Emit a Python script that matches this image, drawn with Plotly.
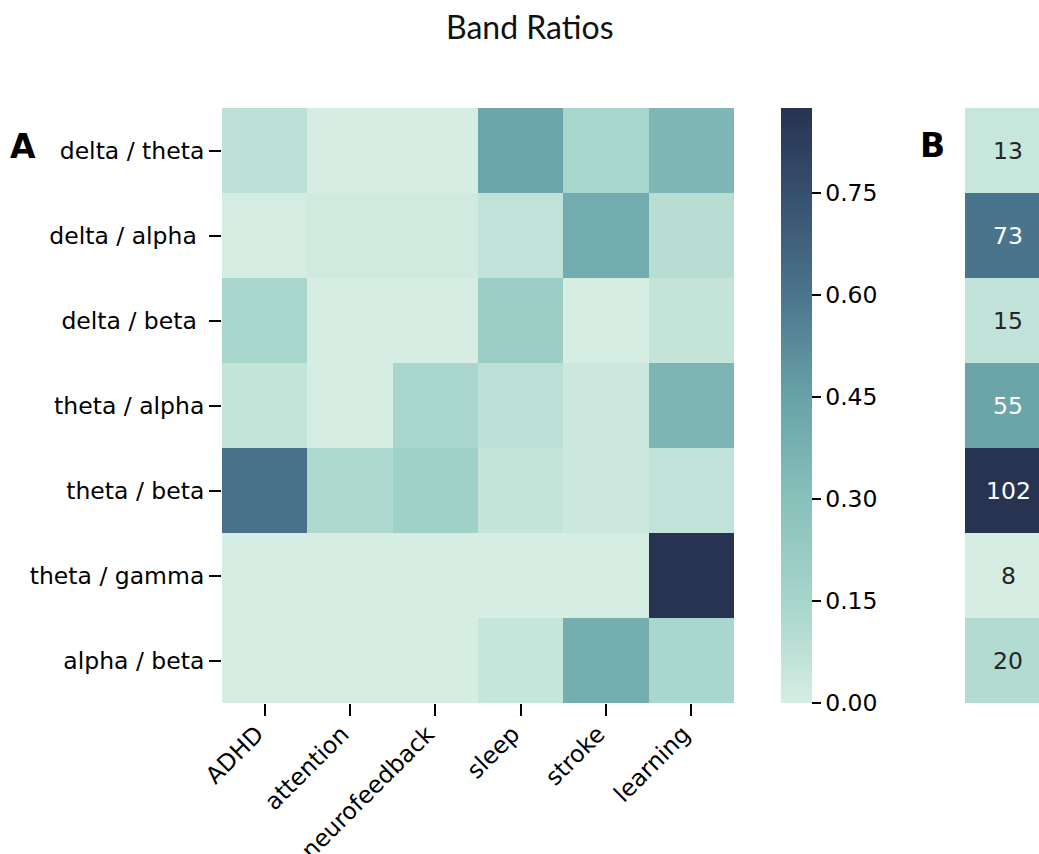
import plotly.graph_objects as go

W, H = 1039, 854

rows = ["delta / theta", "delta / alpha\u00a0", "delta / beta\u00a0", "theta / alpha",
        "theta / beta", "theta / gamma", "alpha / beta"]
cols = ["ADHD", "attention", "neurofeedback", "sleep", "stroke", "learning"]

delta_theta = [0.078, 0.0, 0.0, 0.43, 0.145, 0.345]
delta_alpha = [0.005, 0.02, 0.02, 0.07, 0.40, 0.094]
delta_beta = [0.145, 0.0, 0.0, 0.205, 0.0, 0.056]
theta_alpha = [0.056, 0.0, 0.145, 0.08, 0.03, 0.355]
theta_beta = [0.62, 0.125, 0.18, 0.055, 0.032, 0.07]
theta_gamma = [0.0, 0.0, 0.0, 0.0, 0.0, 0.875]
alpha_beta = [0.0, 0.0, 0.0, 0.05, 0.39, 0.14]
values = [delta_theta, delta_alpha, delta_beta, theta_alpha, theta_beta, theta_gamma, alpha_beta]

counts = [13, 73, 15, 55, 102, 8, 20]

cbar_ticks = [0.0, 0.15, 0.30, 0.45, 0.60, 0.75]
zmax = 0.875

stops = [(0.0, "#d6ede3"), (0.15, "#a6d5cb"), (0.30, "#88c0ba"), (0.45, "#68a2a8"),
         (0.60, "#4b758c"), (0.75, "#374f6f"), (0.875, "#273350")]
colorscale = [[v / zmax, c] for v, c in stops]

FONT = "DejaVu Sans"
fs = 23.5

def px_x(p):
    return p / W

def px_y(p):
    return 1 - p / H

top, bot = 108, 703
fig = go.Figure()
fig.add_trace(go.Heatmap(
    z=values, x=cols, y=rows, colorscale=colorscale, zmin=0, zmax=zmax,
    xaxis="x", yaxis="y",
    colorbar=dict(
        x=px_x(781), xanchor="left", xpad=0, ypad=0,
        y=px_y((top + bot) / 2), yanchor="middle",
        len=(bot - top) / H, lenmode="fraction",
        thickness=31, thicknessmode="pixels",
        outlinewidth=0,
        tickvals=cbar_ticks, ticktext=[f"{t:.2f}" for t in cbar_ticks],
        ticks="outside", ticklen=9, tickwidth=2, tickcolor="black",
        tickfont=dict(family=FONT, size=fs, color="black"),
    ),
    hoverongaps=False,
))

text_colors = ["#262626" if c < 40 else "white" for c in counts]
fig.add_trace(go.Heatmap(
    z=[[c] for c in counts], x=[0], y=rows, colorscale=colorscale,
    zmin=min(counts), zmax=max(counts), showscale=False,
    xaxis="x2", yaxis="y2",
))
for r, c, tc in zip(rows, counts, text_colors):
    fig.add_annotation(x=0, y=r, xref="x2", yref="y2", text=str(c), showarrow=False,
                       font=dict(family=FONT, size=fs, color=tc))

colB_left, colB_w = 965, 86
xr_end = -0.5 + (W - colB_left) / colB_w

fig.update_layout(
    width=W, height=H,
    margin=dict(l=0, r=0, t=0, b=0, autoexpand=False),
    paper_bgcolor="white", plot_bgcolor="white",
    xaxis=dict(domain=[px_x(222), px_x(734)], showgrid=False, zeroline=False, showline=False,
               ticks="outside", ticklen=12, tickwidth=2, tickcolor="black",
               tickangle=-45, tickfont=dict(family=FONT, size=fs, color="black"),
               ticklabelshift=-8, ticklabelstandoff=-5,
               anchor="y", automargin=False),
    yaxis=dict(domain=[px_y(bot), px_y(top)], autorange="reversed", showgrid=False,
               zeroline=False, showline=False,
               ticks="outside", ticklen=12, tickwidth=2, tickcolor="black",
               tickfont=dict(family=FONT, size=fs, color="black"), anchor="x",
               automargin=False),
    xaxis2=dict(domain=[px_x(colB_left), 1.0], range=[-0.5, xr_end], showgrid=False,
                zeroline=False, showline=False, showticklabels=False, ticks="",
                anchor="y2", automargin=False),
    yaxis2=dict(domain=[px_y(bot), px_y(top)], autorange="reversed", showgrid=False,
                zeroline=False, showline=False, showticklabels=False, ticks="",
                anchor="x2", automargin=False),
)

fig.add_annotation(x=px_x(530), y=px_y(26), xref="paper", yref="paper", text="Band Ratios",
                   showarrow=False, xanchor="center", yanchor="middle",
                   font=dict(family="Lato", size=32, color="#111111"))
fig.add_annotation(x=px_x(23), y=px_y(147), xref="paper", yref="paper", text="<b>A</b>",
                   showarrow=False, xanchor="center", yanchor="middle",
                   font=dict(family=FONT, size=33, color="black"))
fig.add_annotation(x=px_x(932), y=px_y(146), xref="paper", yref="paper", text="<b>B</b>",
                   showarrow=False, xanchor="center", yanchor="middle",
                   font=dict(family=FONT, size=33, color="black"))

fig.write_html("out.html", config={"displayModeBar": False},
               post_script="document.body.style.margin='0';")
